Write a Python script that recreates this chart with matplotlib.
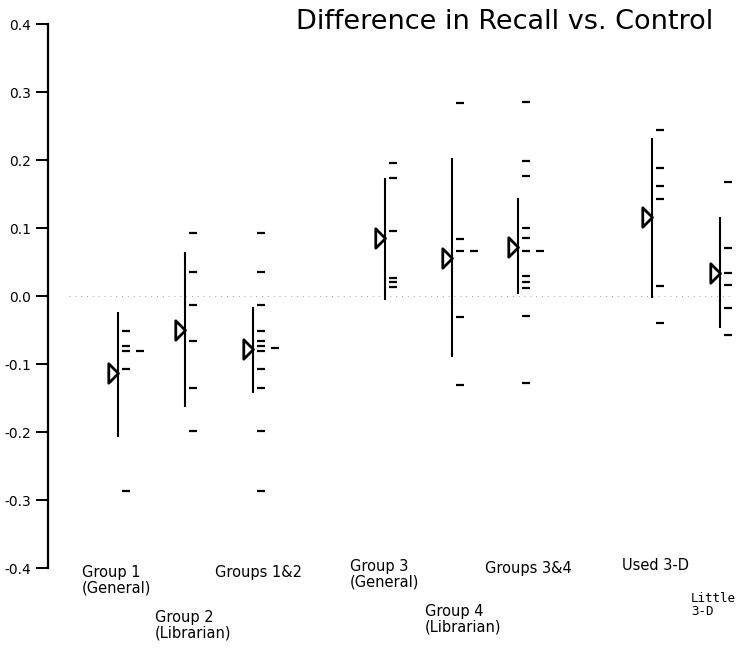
import matplotlib
matplotlib.use("Agg")
import matplotlib.pyplot as plt
from matplotlib.path import Path
from matplotlib.transforms import blended_transform_factory

plt.rcParams['font.family'] = ['DejaVu Sans']

# ---- data ----
groups = ["Group 1\n(General)", "Group 2\n(Librarian)", "Groups 1&2",
          "Group 3\n(General)", "Group 4\n(Librarian)", "Groups 3&4",
          "Used 3-D", "Little\n3-D"]
means = [-0.113, -0.050, -0.078, 0.085, 0.056, 0.072, 0.116, 0.034]
range_top = [-0.024, 0.065, -0.016, 0.174, 0.203, 0.144, 0.232, 0.116]
range_bottom = [-0.207, -0.163, -0.143, -0.006, -0.090, 0.003, -0.003, -0.047]
values = [
    [-0.051, -0.074, -0.081, -0.107, -0.287],
    [0.093, 0.035, -0.013, -0.066, -0.135, -0.199],
    [0.093, 0.035, -0.013, -0.051, -0.066, -0.074, -0.081, -0.107, -0.135, -0.199, -0.287],
    [0.196, 0.174, 0.096, 0.026, 0.021, 0.013],
    [0.284, 0.084, 0.066, -0.031, -0.131],
    [0.285, 0.199, 0.176, 0.100, 0.085, 0.066, 0.029, 0.021, 0.012, -0.029, -0.128],
    [0.244, 0.188, 0.162, 0.143, 0.015, -0.040],
    [0.168, 0.071, 0.034, 0.016, -0.018, -0.057],
]
medians = [-0.081, None, -0.076, None, 0.066, 0.066, None, None]

# ---- layout (pixel-like x units) ----
positions = [70, 137, 205, 337, 404, 470, 604, 672]
label_dx = [-36, -30, -38, -35, -27, -33, -30, -29]
label_y_px = [580, 625, 573, 574, 619, 568, 565, 605]

W, H = 738, 649
fig = plt.figure(figsize=(W / 100, H / 100), dpi=100)
ax = fig.add_axes([48 / W, (H - 568) / H, (W - 48) / W, (568 - 24) / H])
ax.set_xlim(0, W - 48)
ax.set_ylim(-0.4, 0.4)

# zero reference line (faint dotted)
ax.axhline(0, xmin=0.03, xmax=0.99, color='#a0a0a0', lw=0.7,
           ls=(0, (1, 5)), zorder=1)

tri = Path([(-1.0, 1.0), (0.0, 0.0), (-1.0, -1.0), (-1.0, 1.0)],
           [Path.MOVETO, Path.LINETO, Path.LINETO, Path.CLOSEPOLY])

for i, x in enumerate(positions):
    ax.vlines(x, range_bottom[i], range_top[i], color='black', lw=1.5, zorder=3)
    ax.hlines(values[i], x + 4, x + 12, color='black', lw=1.6, zorder=3)
    if medians[i] is not None:
        ax.hlines(medians[i], x + 18, x + 26, color='black', lw=1.6, zorder=3)
    ax.plot([x - 0.5], [means[i]], marker=tri, ms=14, mfc='none',
            mec='black', mew=2.0, ls='none', zorder=4)

# axes styling
for s in ['top', 'right', 'bottom']:
    ax.spines[s].set_visible(False)
ax.spines['left'].set_linewidth(1.6)
ax.set_yticks([-0.4, -0.3, -0.2, -0.1, 0.0, 0.1, 0.2, 0.3, 0.4])
ax.set_yticklabels(['-0.4', '-0.3', '-0.2', '-0.1', '0.0', '0.1', '0.2', '0.3', '0.4'])
ax.tick_params(axis='y', direction='out', length=9, width=1.4, labelsize=10, pad=3)
ax.set_xticks([])

# group labels
trans = blended_transform_factory(ax.transData, fig.transFigure)
for i, lab in enumerate(groups):
    if lab.startswith('Little'):
        fam, fs = ['DejaVu Sans Mono'], 9
    else:
        fam, fs = ['DejaVu Sans'], 10.5
    ax.text(positions[i] + label_dx[i], 1 - label_y_px[i] / H, lab,
            transform=trans, ha='left', va='center', fontsize=fs,
            linespacing=1.05, family=fam, clip_on=False)

fig.text(505 / W, 1 - 22 / H, "Difference in Recall vs. Control",
         ha='center', va='center', fontsize=19.5)

fig.savefig("out.png", dpi=100)
